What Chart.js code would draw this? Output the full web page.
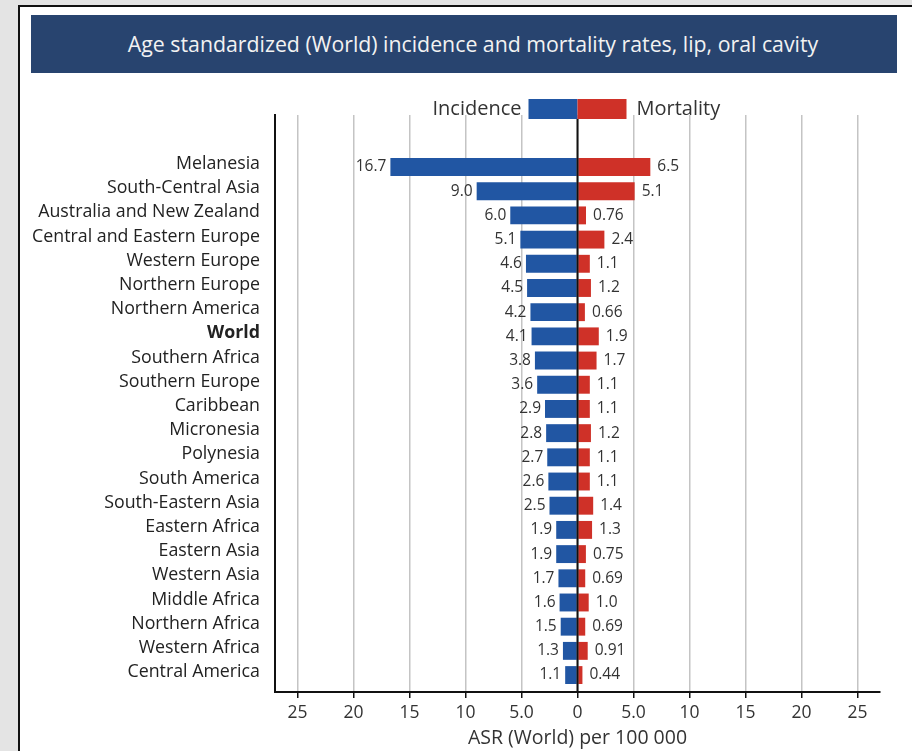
<!DOCTYPE html>
<html>
<head>
<meta charset="utf-8">
<script src="https://cdn.jsdelivr.net/npm/chart.js@4.4.1/dist/chart.umd.min.js"></script>
<style>
  html, body { margin: 0; padding: 0; }
  body { width: 912px; height: 751px; background: #e4e4e4; position: relative; overflow: hidden; font-family: "Open Sans", sans-serif; }
  #panel { position: absolute; left: 18px; top: 5px; width: 920px; height: 780px; background: #fff; border-left: 2px solid #111; border-top: 2px solid #111; box-sizing: border-box; }
  #header { position: absolute; left: 31px; top: 15px; width: 866px; height: 58px; box-sizing: border-box; padding-left: 18px; background: #28446f; color: #f2f2f2; font-size: 21.3px; line-height: 58px; text-align: center; }
  #wrap { position: absolute; left: 20px; top: 75px; }
</style>
</head>
<body>
<div id="panel"></div>
<div id="header">Age standardized (World) incidence and mortality rates, lip, oral cavity</div>
<div id="wrap"><canvas id="c" width="892" height="676"></canvas></div>
<script>
const categories = ["Melanesia","South-Central Asia","Australia and New Zealand","Central and Eastern Europe","Western Europe","Northern Europe","Northern America","World","Southern Africa","Southern Europe","Caribbean","Micronesia","Polynesia","South America","South-Eastern Asia","Eastern Africa","Eastern Asia","Western Asia","Middle Africa","Northern Africa","Western Africa","Central America"];
const incidence = [16.7,9.0,6.0,5.1,4.6,4.5,4.2,4.1,3.8,3.6,2.9,2.8,2.7,2.6,2.5,1.9,1.9,1.7,1.6,1.5,1.3,1.1];
const mortality = [6.5,5.1,0.76,2.4,1.1,1.2,0.66,1.9,1.7,1.1,1.1,1.2,1.1,1.1,1.4,1.3,0.75,0.69,1.0,0.69,0.91,0.44];
const xTickValues = [-25,-20,-15,-10,-5,0,5,10,15,20,25];
const xTickLabels = ["25","20","15","10","5.0","0","5.0","10","15","20","25"];
const seriesNames = ["Incidence","Mortality"];

const FONT = '"Open Sans", sans-serif';
const TXT = '#333';
const BLUE = '#2156a3';
const RED = '#cf3128';

const fmt = v => (v < 1 ? v.toFixed(2) : v.toFixed(1));

const labelPlugin = {
  id: 'valueLabels',
  afterDatasetsDraw(chart) {
    const ctx = chart.ctx;
    ctx.save();
    ctx.font = '15.5px ' + FONT;
    ctx.fillStyle = TXT;
    ctx.textBaseline = 'middle';
    chart.data.datasets.forEach((ds, di) => {
      const meta = chart.getDatasetMeta(di);
      meta.data.forEach((bar, i) => {
        const raw = di === 0 ? incidence[i] : mortality[i];
        if (di === 0) {
          ctx.textAlign = 'right';
          ctx.fillText(fmt(raw), bar.x - 4, bar.y);
        } else {
          ctx.textAlign = 'left';
          ctx.fillText(fmt(raw), bar.x + 7, bar.y);
        }
      });
    });
    const xs = chart.scales.x;
    const x0 = xs.getPixelForValue(0);
    ctx.strokeStyle = '#111';
    ctx.lineWidth = 2;
    ctx.beginPath();
    ctx.moveTo(x0, chart.chartArea.top + 4);
    ctx.lineTo(x0, chart.chartArea.bottom);
    ctx.stroke();
    ctx.restore();
  }
};

const legendPlugin = {
  id: 'centerLegend',
  afterDraw(chart) {
    const ctx = chart.ctx;
    const x0 = chart.scales.x.getPixelForValue(0);
    const top = chart.chartArea.top - 16;
    const h = 20, w = 49;
    ctx.save();
    ctx.fillStyle = BLUE;
    ctx.fillRect(x0 - w, top, w, h);
    ctx.fillStyle = RED;
    ctx.fillRect(x0, top, w, h);
    ctx.font = '20px ' + FONT;
    ctx.fillStyle = TXT;
    ctx.textBaseline = 'middle';
    ctx.textAlign = 'right';
    ctx.fillText(seriesNames[0], x0 - w - 7, top + h / 2);
    ctx.textAlign = 'left';
    ctx.fillText(seriesNames[1], x0 + w + 10, top + h / 2);
    ctx.restore();
  }
};

new Chart(document.getElementById('c'), {
  type: 'bar',
  data: {
    datasets: [
      { label: seriesNames[0], data: incidence.map((v, i) => ({ x: -v, y: i })), backgroundColor: BLUE },
      { label: seriesNames[1], data: mortality.map((v, i) => ({ x: v, y: i })), backgroundColor: RED }
    ]
  },
  options: {
    indexAxis: 'y',
    responsive: false,
    animation: false,
    layout: { padding: { top: 40, right: 32, bottom: 0, left: 0 } },
    datasets: { bar: { grouped: false, categoryPercentage: 1, barPercentage: 0.74 } },
    plugins: { legend: { display: false }, tooltip: { enabled: false }, title: { display: false } },
    scales: {
      x: {
        type: 'linear',
        min: -27, max: 27,
        afterBuildTicks: s => { s.ticks = xTickValues.map(v => ({ value: v })); },
        afterFit: s => { s.height = 59; },
        ticks: {
          autoSkip: false,
          padding: 5,
          color: TXT,
          font: { family: FONT, size: 17.5 },
          callback: (v) => xTickLabels[xTickValues.indexOf(v)]
        },
        grid: {
          color: '#c4c4c4',
          lineWidth: 1.5,
          tickColor: '#111',
          tickLength: 6,
          tickWidth: 1.5
        },
        border: { color: '#111', width: 2 },
        title: {
          display: true,
          text: 'ASR (World) per 100 000',
          color: TXT,
          font: { family: FONT, size: 19.5 },
          padding: { top: 0, bottom: 1 }
        }
      },
      y: {
        type: 'linear',
        reverse: true,
        offset: false,
        grace: 0,
        min: -2.15, max: 21.70,
        afterBuildTicks: s => { s.ticks = categories.map((c, i) => ({ value: i })); },
        afterFit: s => { s.width = 255; },
        ticks: {
          autoSkip: false,
          padding: 15,
          labelOffset: -3,
          color: '#222',
          font: (c) => ({ family: FONT, size: 17.8, weight: (c.tick && categories[c.tick.value] === 'World') ? 'bold' : 'normal' }),
          callback: (v) => categories[v]
        },
        grid: { display: false, drawTicks: false },
        border: { color: '#111', width: 2 }
      }
    }
  },
  plugins: [labelPlugin, legendPlugin]
});
</script>
</body>
</html>
